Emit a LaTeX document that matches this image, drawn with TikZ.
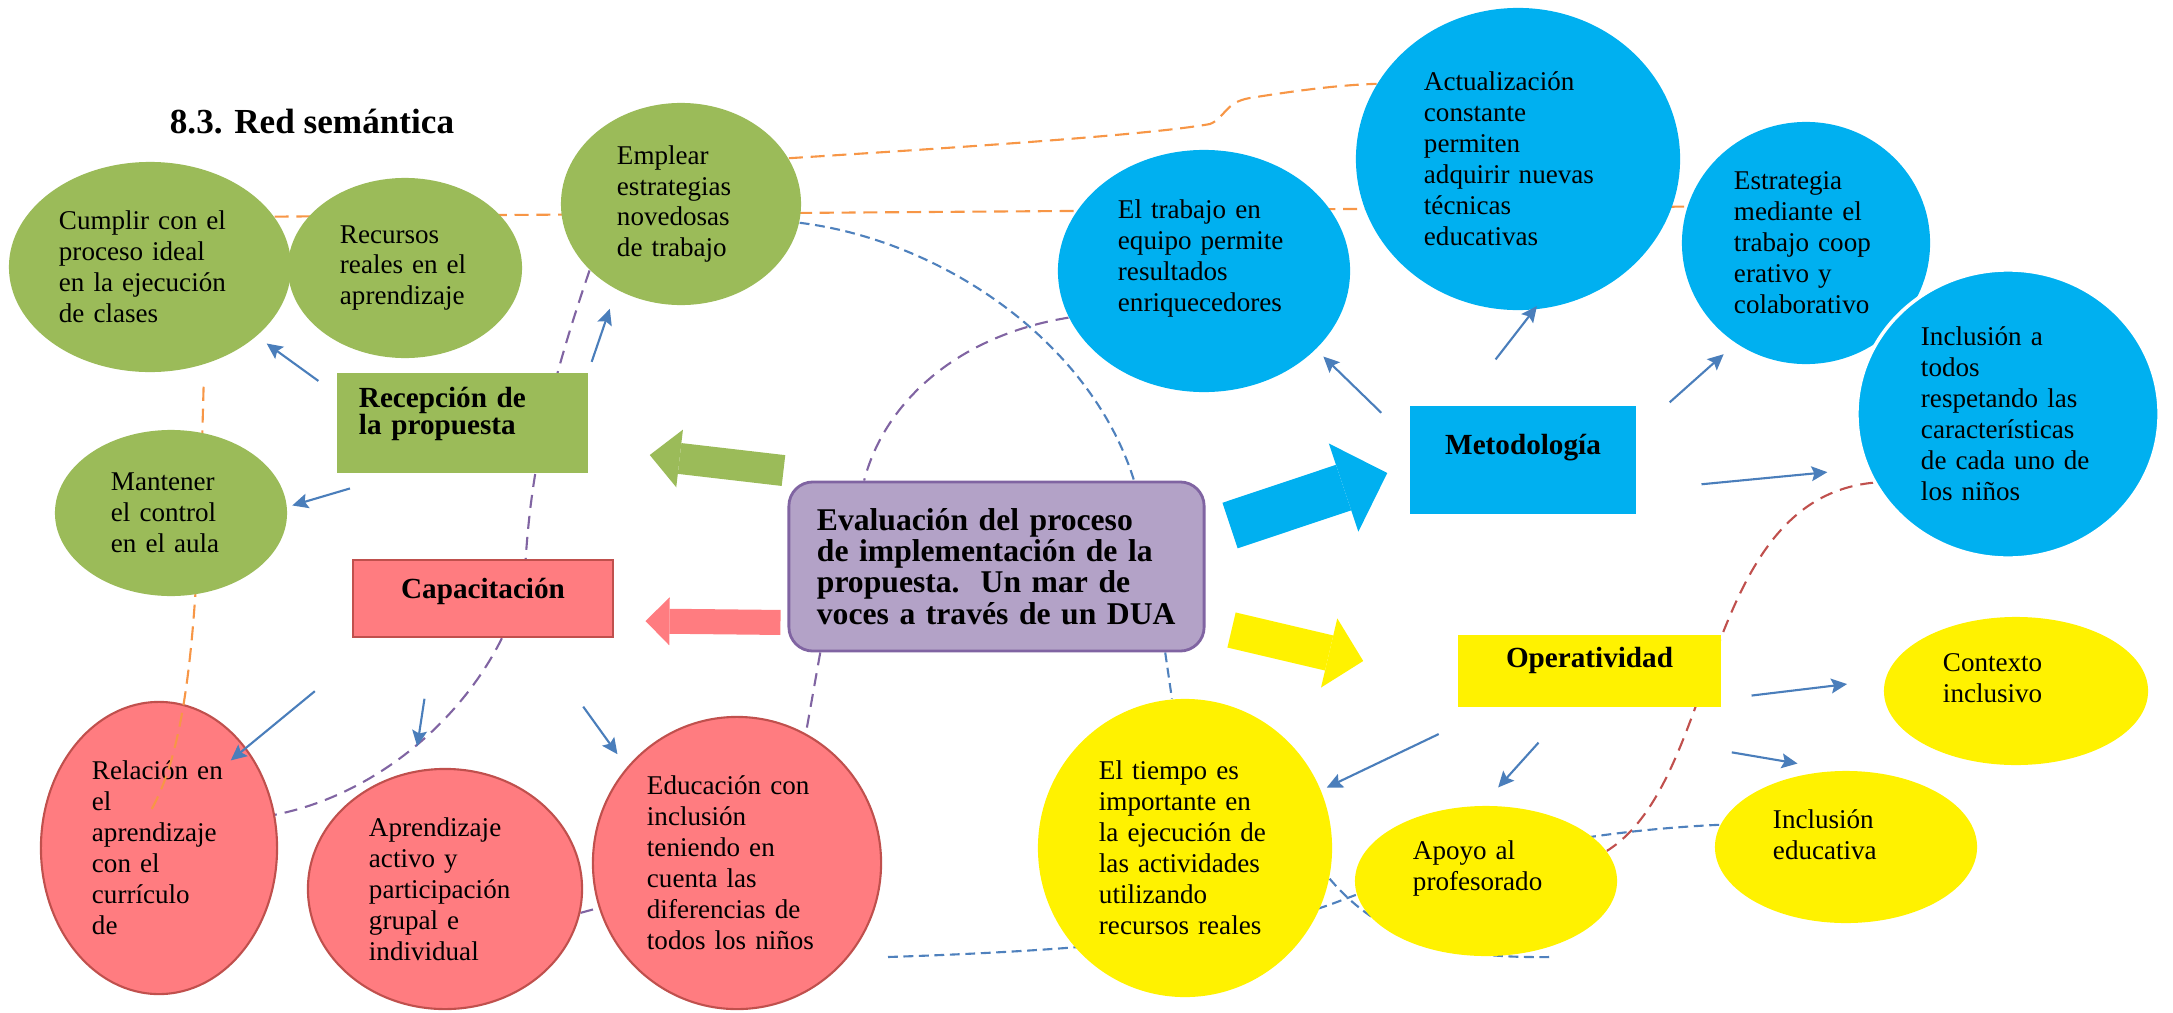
\documentclass[tikz,border=0pt]{standalone}
\usepackage{fontspec}
\setmainfont{Liberation Serif}
\usetikzlibrary{shapes.geometric, arrows.meta}

\definecolor{greenfill}{HTML}{9BBB59}
\definecolor{bluefill}{HTML}{00B0F0}
\definecolor{redfill}{HTML}{FF7C80}
\definecolor{redborder}{HTML}{C0504D}
\definecolor{purplefill}{HTML}{B3A2C7}
\definecolor{purpleborder}{HTML}{8064A2}
\definecolor{arrowblue}{HTML}{4A7EBB}
\definecolor{dashorange}{HTML}{F79646}
\definecolor{dashblue}{HTML}{4F81BD}

\pgfdeclarelayer{background}
\pgfsetlayers{background,main}

\begin{document}
\begin{tikzpicture}[x=0.01cm, y=-0.01cm,
    every node/.style={font=\fontsize{7.7}{8.8}\selectfont, inner sep=0pt},
    green_node/.style={ellipse, fill=greenfill, align=left},
    blue_node/.style={ellipse, fill=bluefill, align=left},
    red_node/.style={ellipse, fill=redfill, draw=redborder, line width=0.6pt, align=left},
    yellow_node/.style={ellipse, fill=yellow, align=left},
    box_style/.style={rectangle, font=\fontsize{8.3}{7.8}\selectfont\bfseries, text height=6pt},
    thin_arrow/.style={draw=arrowblue, line width=0.6pt, -{Stealth[length=4.5pt, width=4.2pt, inset=0.8pt]}},
    block_arrow/.style args={#1/#2/#3/#4}{draw=#1, line width=#2, -{Triangle[length=#3, width=#4, line width=0pt]}},
    dash_orange/.style={draw=dashorange, line width=0.6pt, dash pattern=on 4pt off 2.2pt},
    dash_purple/.style={draw=purpleborder, line width=0.6pt, dash pattern=on 3.7pt off 2.3pt},
    dash_blue/.style={draw=dashblue, line width=0.6pt, dash pattern=on 2.8pt off 1.6pt},
    dash_red/.style={draw=redborder, line width=0.6pt, dash pattern=on 3.7pt off 2.3pt}]

    \useasboundingbox (0,0) rectangle (2173,1012);

    \node[font=\fontsize{10}{12}\selectfont\bfseries] (title) at (312,122) {8.3. Red semántica};

    \node[green_node, minimum width=2.82cm, minimum height=2.1cm, text width=1.82cm] (cumplir) at (150,267) {Cumplir con el\\proceso ideal\\en la ejecución\\de clases};
    \node[green_node, minimum width=2.34cm, minimum height=1.8cm, text width=1.30cm] (recursos) at (405,268) {Recursos\\reales en el\\aprendizaje};
    \node[green_node, minimum width=2.4cm, minimum height=2.02cm, text width=1.28cm] (emplear) at (681,204) {Emplear\\estrategias\\novedosas\\de trabajo};
    \node[box_style, fill=greenfill, minimum width=2.51cm, minimum height=1cm, text width=2.07cm, align=left, text depth=15pt] (recepcion) at (462.5,423) {Recepción de\\la propuesta};
    \node[box_style, fill=redfill, draw=redborder, line width=0.8pt, minimum width=2.6cm, minimum height=0.77cm, text depth=6pt] (capacitacion) at (483,598.5) {Capacitación};
    \node[rectangle, rounded corners=0.24cm, fill=purplefill, draw=purpleborder, line width=0.8pt, minimum width=4.15cm, minimum height=1.69cm, text width=3.59cm, align=left, font=\fontsize{9}{8.9}\selectfont\bfseries] (central) at (996.5,566.5) {Evaluación del proceso\\de implementación de la\\propuesta.~~Un mar de\\voces a través de un DUA};

    \node[blue_node, minimum width=2.92cm, minimum height=2.42cm, text width=1.72cm, text depth=35pt] (eltrabajo) at (1204,271) {El trabajo en\\equipo permite\\resultados\\enriquecedores};
    \node[blue_node, minimum width=3.24cm, minimum height=3.02cm, text width=1.88cm] (actualizacion) at (1518,159) {Actualización\\constante\\permiten\\adquirir nuevas\\técnicas\\educativas};
    \node[blue_node, minimum width=2.48cm, minimum height=2.42cm, text width=1.44cm] (estrategia) at (1806,243) {Estrategia\\mediante el\\trabajo coop\\erativo y\\colaborativo};
    \node[blue_node, draw=white, line width=1pt, minimum width=3.02cm, minimum height=2.88cm, text width=1.74cm] (inclusion) at (2008,414) {Inclusión a\\todos\\respetando las\\características\\de cada uno de\\los niños};
    \node[box_style, fill=bluefill, minimum width=2.26cm, minimum height=1.08cm, text depth=9.4pt] (metodologia) at (1523,460) {Metodología};
    \node[box_style, fill=yellow, minimum width=2.63cm, minimum height=0.72cm, text depth=8.2pt] (operatividad) at (1589.5,671) {Operatividad};

    \node[red_node, minimum width=2.36cm, minimum height=2.92cm, text width=1.34cm] (relacion) at (159,848) {Relación en\\el\\aprendizaje\\con el\\currículo\\de};
    \node[red_node, minimum width=2.74cm, minimum height=2.4cm, text width=1.52cm] (aprendizaje) at (445,889) {Aprendizaje\\activo y\\participación\\grupal e\\individual};
    \node[red_node, minimum width=2.88cm, minimum height=2.92cm, text width=1.80cm] (educacion) at (737,863) {Educación con\\inclusión\\teniendo en\\cuenta las\\diferencias de\\todos los niños};

    \node[yellow_node, minimum width=2.94cm, minimum height=2.98cm, text width=1.72cm] (eltiempo) at (1185,848) {El tiempo es\\importante en\\la ejecución de\\las actividades\\utilizando\\recursos reales};
    \node[yellow_node, minimum width=2.62cm, minimum height=1.5cm, text width=1.46cm, text depth=17.5pt] (apoyo) at (1486,881) {Apoyo al\\profesorado};
    \node[yellow_node, minimum width=2.62cm, minimum height=1.52cm, text width=1.46cm, text depth=16pt] (inclusionedu) at (1846,847) {Inclusión\\educativa};
    \node[yellow_node, minimum width=2.64cm, minimum height=1.48cm, text width=1.46cm, text depth=16pt] (contexto) at (2016,691) {Contexto\\inclusivo};

    \coordinate (blue_start) at (888,957);
    \coordinate (blue_end) at (1552,957);
    \coordinate (orange_end) at (150,812);

    \begin{pgfonlayer}{background}
    \draw[dash_orange] (cumplir.22) -- (estrategia.163);
    \draw[dash_orange] (emplear.23) .. controls (950,148) and (1150,135) .. (1210,124) .. controls (1225,118) and (1225,102) .. (1250,98) .. controls (1300,90) and (1340,85) .. (actualizacion.152);
    \draw[dash_blue] (emplear.-9) .. controls (940,240) and (1090,340) .. (central.32.5);
    \draw[dash_purple] (emplear.216) .. controls (545,400) and (530,480) .. (525,570) .. controls (505,680) and (400,790) .. (relacion.16);
    \draw[dash_purple] (eltrabajo.199) .. controls (960,335) and (885,400) .. (central.147);
    \draw[dash_purple] (central.206.6) -- (educacion.62);
    \draw[dash_purple] (aprendizaje.-10) -- (educacion.198);
    \draw[dash_red] (inclusion.207) .. controls (1700,500) and (1720,780) .. (apoyo.14);
    \draw[dash_blue] (central.-27.6) -- (eltiempo.95);
    \draw[dash_blue] (blue_start) .. controls (1100,950) and (1250,935) .. (1337,902) .. controls (1430,866) and (1560,832) .. (inclusionedu.170);
    \draw[dash_blue] (eltiempo.-12) .. controls (1390,950) and (1470,958) .. (blue_end);
    \end{pgfonlayer}

    \draw[dash_orange, shorten <=0.22cm] (cumplir.-61) .. controls (198,600) and (192,740) .. (orange_end);

    \node[green_node, minimum width=2.32cm, minimum height=1.66cm, text width=1.2cm] (mantener) at (171,513) {Mantener\\el control\\en el aula};

    \draw[block_arrow=greenfill/0.31cm/0.30cm/0.58cm] ([shift={(-4,-10)}]central.north west) -- ([shift={(61,32)}]recepcion.east);
    \draw[block_arrow=redfill/0.25cm/0.24cm/0.48cm] ([shift={(-7,-30)}]central.south west) -- ([shift={(31,22.5)}]capacitacion.east);
    \draw[block_arrow=bluefill/0.48cm/0.46cm/0.93cm] ([shift={(24.5,45)}]central.north east) -- ([shift={(-22,13)}]metodologia.west);
    \draw[block_arrow=yellow/0.36cm/0.35cm/0.71cm] ([shift={(26,63.5)}]central.east) -- ([shift={(-94,-10)}]operatividad.west);

    \draw[thin_arrow, shorten <=0.22cm, shorten >=0.12cm] (recepcion.167) -- (cumplir.-33);
    \draw[thin_arrow, shorten <=0.11cm, shorten >=0.20cm] (recepcion.22.7) -- (emplear.233);
    \draw[thin_arrow, shorten <=0.52cm, shorten >=0.05cm] (recepcion.219) -- (mantener.3);
    \draw[thin_arrow, shorten <=0.83cm, shorten >=-0.20cm] (capacitacion.201.6) -- (relacion.49);
    \draw[thin_arrow, shorten <=0.61cm, shorten >=0.25cm] (capacitacion.219.9) -- (aprendizaje.105);
    \draw[thin_arrow, shorten <=0.84cm, shorten >=0.16cm] (capacitacion.-38.4) -- (educacion.139);
    \draw[thin_arrow, shorten <=0.39cm, shorten >=0.10cm] (metodologia.170.9) -- (eltrabajo.-35);
    \draw[thin_arrow, shorten <=0.58cm, shorten >=-0.05cm] (metodologia.139.8) -- (actualizacion.-84);
    \draw[thin_arrow, shorten <=0.44cm, shorten >=0.16cm] (metodologia.14.9) -- (estrategia.235);
    \draw[thin_arrow, shorten <=0.65cm, shorten >=0.39cm] (metodologia.-15.6) -- (inclusion.201);
    \draw[thin_arrow, shorten <=0.30cm, shorten >=0.38cm] (operatividad.-12.1) -- (contexto.175);
    \draw[thin_arrow, shorten <=2.66cm, shorten >=0.41cm] (operatividad.197) -- (inclusionedu.96);
    \draw[thin_arrow, shorten <=0.47cm, shorten >=0.24cm] (operatividad.242.6) -- (apoyo.93);
    \draw[thin_arrow, shorten <=0.61cm, shorten >=0.06cm] (operatividad.201.2) -- (eltiempo.23);
\end{tikzpicture}
\end{document}
